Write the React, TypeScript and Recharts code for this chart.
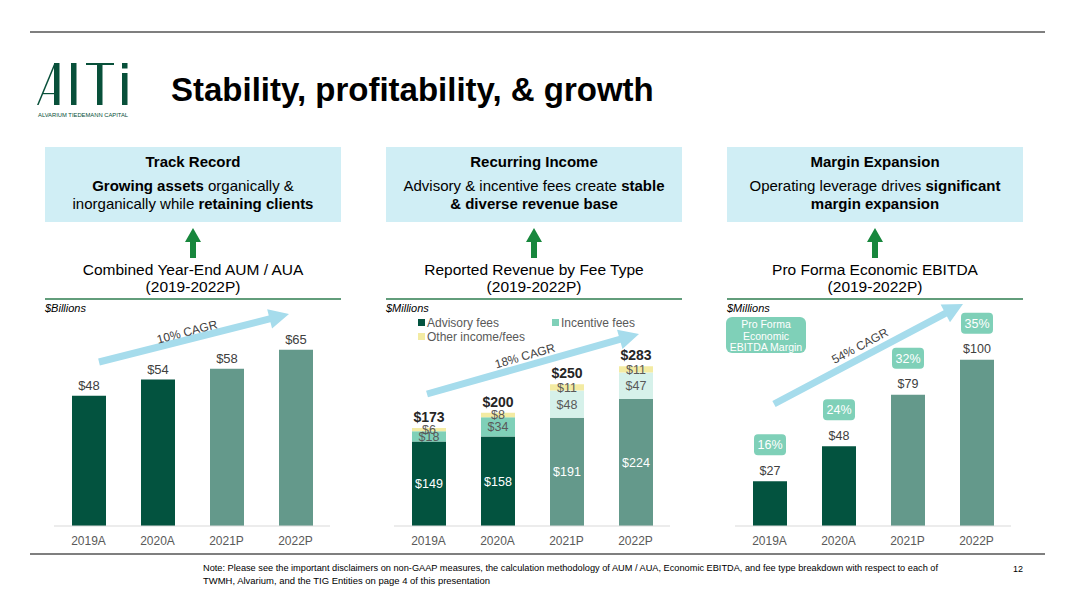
import React from "react";
import { BarChart, Bar, XAxis, YAxis, Cell, LabelList } from "recharts";

// data
const years = ["2019A", "2020A", "2021P", "2022P"];
const actual = [true, true, false, false];
const aum = [48, 54, 58, 65];
const advisory = [149, 158, 191, 224];
const incentive = [18, 34, 48, 47];
const other = [6, 8, 11, 11];
const revenueTotals = [173, 200, 250, 283];
const ebitda = [27, 48, 79, 100];
const ebitdaMargin = [16, 24, 32, 35];

const FONT = '"Liberation Sans", Arial, sans-serif';
const DARK = "#03533F";
const PROJ = "#64998B";
const INC = "#7FD0B8";
const INC_P = "#D6F1EA";
const OTHER = "#F3EBA3";
const PILL = "#7FD0B8";
const BOX = "#D0EEF5";
const CAGR = "#A6DCEC";
const UP = "#18873D";
const TXT = "#404040";

const CH_TOP = 305;
const CH_H = 251;
const PLOT_W = 276;

const aumData = years.map((y, i) => ({ year: y, value: aum[i] }));
const revData = years.map((y, i) => ({
  year: y,
  advisory: advisory[i],
  incentive: incentive[i],
  other: other[i],
}));
const ebitdaData = years.map((y, i) => ({ year: y, value: ebitda[i] }));

const xTick = { fontSize: 12, fill: "#595959", fontFamily: FONT };

function pos(p: any) {
  const vb = p.viewBox || {};
  return {
    x: p.x ?? vb.x,
    y: p.y ?? vb.y,
    width: p.width ?? vb.width,
  };
}

const TotalLabel = (p: any) => {
  const { x, y, width } = pos(p);
  return (
    <text x={x + width / 2} y={y - 6} textAnchor="middle" fontSize={14} fontWeight="bold" fill="#262626" fontFamily={FONT}>
      ${revenueTotals[p.index]}
    </text>
  );
};

const EbitdaLabel = (p: any) => {
  const { x, y, width } = pos(p);
  const cx = x + width / 2;
  return (
    <g>
      <text x={cx} y={y - 6.5} textAnchor="middle" fontSize={12.5} fill={TXT} fontFamily={FONT}>
        ${p.value}
      </text>
      <rect x={cx - 16} y={y - 47} width={32} height={21} rx={4} fill={PILL} />
      <text x={cx} y={y - 32} textAnchor="middle" fontSize={12.5} fill="#fff" fontFamily={FONT}>
        {ebitdaMargin[p.index]}%
      </text>
    </g>
  );
};

function arrowPts(x1: number, y1: number, x2: number, y2: number, shaft = 7, headW = 20, headL = 20) {
  const dx = x2 - x1, dy = y2 - y1, len = Math.hypot(dx, dy);
  const ux = dx / len, uy = dy / len, nx = -uy, ny = ux;
  const bx = x2 - ux * headL, by = y2 - uy * headL;
  const pts = [
    [x1 + (nx * shaft) / 2, y1 + (ny * shaft) / 2],
    [bx + (nx * shaft) / 2, by + (ny * shaft) / 2],
    [bx + (nx * headW) / 2, by + (ny * headW) / 2],
    [x2, y2],
    [bx - (nx * headW) / 2, by - (ny * headW) / 2],
    [bx - (nx * shaft) / 2, by - (ny * shaft) / 2],
    [x1 - (nx * shaft) / 2, y1 - (ny * shaft) / 2],
  ];
  return pts.map((p) => p.join(",")).join(" ");
}

const boxes = [
  {
    x: 45,
    title: "Track Record",
    l1: [["Growing assets", true], [" organically &", false]],
    l2: [["inorganically while ", false], ["retaining clients", true]],
    c1: "Combined Year-End AUM / AUA",
    unit: "$Billions",
  },
  {
    x: 386,
    title: "Recurring Income",
    l1: [["Advisory & incentive fees create ", false], ["stable", true]],
    l2: [["& diverse revenue base", true]],
    c1: "Reported Revenue by Fee Type",
    unit: "$Millions",
  },
  {
    x: 727,
    title: "Margin Expansion",
    l1: [["Operating leverage drives ", false], ["significant", true]],
    l2: [["margin expansion", true]],
    c1: "Pro Forma Economic EBITDA",
    unit: "$Millions",
  },
];

const cagrs = [
  { x1: 99, y1: 362, x2: 289, y2: 314, cx: 187, cy: 332, a: -14.5, t: "10% CAGR" },
  { x1: 427, y1: 394, x2: 639, y2: 334, cx: 525, cy: 356, a: -16, t: "18% CAGR" },
  { x1: 774, y1: 404, x2: 963, y2: 304, cx: 860, cy: 346, a: -28, t: "54% CAGR" },
];

function Slide() {
  return (
    <svg width={1068} height={601} style={{ position: "absolute", left: 0, top: 0 }} fontFamily={FONT}>
      <line x1={30} y1={32} x2={1045} y2={32} stroke="#7F7F7F" strokeWidth={2} />
      <line x1={30} y1={554} x2={1045} y2={554} stroke="#7F7F7F" strokeWidth={2} />

      {/* logo */}
      <g fill="#08503A">
        <polygon points="37,105 38.6,105 56,63 54.4,63" />
        <rect x={54} y={63} width={5.5} height={42} />
        <rect x={43} y={93} width={12} height={1.2} />
        <rect x={71} y={63} width={5.5} height={42} />
        <rect x={86} y={63} width={28} height={2} />
        <rect x={97} y={63} width={5.5} height={42} />
        <rect x={122} y={73} width={5.5} height={32} />
        <rect x={122} y={63} width={5.5} height={5.5} />
      </g>
      <text x={38} y={117} fontSize={4.6} fill="#08503A" textLength={90} lengthAdjust="spacingAndGlyphs">
        ALVARIUM TIEDEMANN CAPITAL
      </text>

      <text x={171} y={101} fontSize={33} fontWeight="bold" fill="#000">
        Stability, profitability, &amp; growth
      </text>

      {boxes.map((b, i) => {
        const cx = b.x + 148;
        return (
          <g key={i}>
            <rect x={b.x} y={147} width={296} height={75} fill={BOX} />
            <text x={cx} y={167} textAnchor="middle" fontSize={15} fontWeight="bold" fill="#000">
              {b.title}
            </text>
            <text x={cx} y={191} textAnchor="middle" fontSize={15} fill="#000">
              {b.l1.map((s: any, k) => (
                <tspan key={k} fontWeight={s[1] ? "bold" : "normal"}>{s[0]}</tspan>
              ))}
            </text>
            <text x={cx} y={208.5} textAnchor="middle" fontSize={15} fill="#000">
              {b.l2.map((s: any, k) => (
                <tspan key={k} fontWeight={s[1] ? "bold" : "normal"}>{s[0]}</tspan>
              ))}
            </text>
            <polygon
              points={`${cx - 8},242 ${cx},228 ${cx + 8},242 ${cx + 3},242 ${cx + 3},258 ${cx - 3},258 ${cx - 3},242`}
              fill={UP}
            />
            <text x={cx} y={275} textAnchor="middle" fontSize={15.5} fill="#000">
              {b.c1}
            </text>
            <text x={cx} y={292} textAnchor="middle" fontSize={15.5} fill="#000">
              (2019-2022P)
            </text>
            <line x1={b.x} y1={299} x2={b.x + 296} y2={299} stroke="#2E7D4F" strokeWidth={1.5} />
            <text x={b.x} y={311.5} fontSize={11} fontStyle="italic" fill="#000">
              {b.unit}
            </text>
          </g>
        );
      })}

      {/* revenue legend */}
      <rect x={418} y={319} width={7} height={7} fill={DARK} />
      <text x={427} y={327} fontSize={12} fill="#595959">Advisory fees</text>
      <rect x={552} y={319} width={7} height={7} fill={INC} />
      <text x={561} y={327} fontSize={12} fill="#595959">Incentive fees</text>
      <rect x={418} y={333} width={7} height={7} fill={OTHER} />
      <text x={427} y={341} fontSize={12} fill="#595959">Other income/fees</text>

      {/* margin legend pill */}
      <rect x={726} y={317} width={80} height={36} rx={6} fill={PILL} />
      <text x={766} y={328} textAnchor="middle" fontSize={10.5} fill="#fff">Pro Forma</text>
      <text x={766} y={339.5} textAnchor="middle" fontSize={10.5} fill="#fff">Economic</text>
      <text x={766} y={351} textAnchor="middle" fontSize={10.5} fill="#fff">EBITDA Margin</text>

      {cagrs.map((c, i) => (
        <g key={i}>
          <polygon points={arrowPts(c.x1, c.y1, c.x2, c.y2)} fill={CAGR} />
          <text
            x={c.cx}
            y={c.cy}
            textAnchor="middle"
            dominantBaseline="central"
            fontSize={12}
            fill={TXT}
            transform={`rotate(${c.a} ${c.cx} ${c.cy})`}
          >
            {c.t}
          </text>
        </g>
      ))}

      <text x={203} y={570.5} fontSize={9} fill="#000" textLength={735} lengthAdjust="spacingAndGlyphs">
        Note: Please see the important disclaimers on non-GAAP measures, the calculation methodology of AUM / AUA, Economic EBITDA, and fee type breakdown with respect to each of
      </text>
      <text x={203} y={584} fontSize={9} fill="#000" textLength={287} lengthAdjust="spacingAndGlyphs">
        TWMH, Alvarium, and the TIG Entities on page 4 of this presentation
      </text>
      <text x={1013} y={572} fontSize={9} fill="#000">12</text>
    </svg>
  );
}

export default function App() {
  const frame = (left: number): React.CSSProperties => ({ position: "absolute", left, top: CH_TOP });
  return (
    <div style={{ position: "absolute", left: 0, top: 0, width: 1068, height: 601, background: "#fff", overflow: "hidden" }}>
      <Slide />

      {/* AUM */}
      <div style={frame(54)}>
        <BarChart width={PLOT_W} height={CH_H} data={aumData} margin={{ top: 4, right: 0, left: 0, bottom: 0 }} barSize={34}>
          <XAxis dataKey="year" axisLine={{ stroke: "#D9D9D9" }} tickLine={false} tick={xTick} height={30} tickMargin={4} />
          <YAxis hide domain={[0, 80]} />
          <Bar dataKey="value" isAnimationActive={false}>
            {aumData.map((d, i) => (
              <Cell key={i} fill={actual[i] ? DARK : PROJ} />
            ))}
            <LabelList dataKey="value" position="top" offset={6} formatter={(v: any) => `$${v}`} fill={TXT} fontSize={13} fontFamily={FONT} />
          </Bar>
        </BarChart>
      </div>

      {/* Revenue */}
      <div style={frame(394)}>
        <BarChart width={PLOT_W} height={CH_H} data={revData} margin={{ top: 0, right: 0, left: 0, bottom: 0 }} barSize={34}>
          <XAxis dataKey="year" axisLine={{ stroke: "#D9D9D9" }} tickLine={false} tick={xTick} height={30} tickMargin={4} />
          <YAxis hide domain={[0, 390]} />
          <Bar dataKey="advisory" stackId="a" isAnimationActive={false}>
            {revData.map((d, i) => (
              <Cell key={i} fill={actual[i] ? DARK : PROJ} />
            ))}
            <LabelList dataKey="advisory" position="center" formatter={(v: any) => `$${v}`} fill="#fff" fontSize={12.5} fontFamily={FONT} />
          </Bar>
          <Bar dataKey="incentive" stackId="a" isAnimationActive={false}>
            {revData.map((d, i) => (
              <Cell key={i} fill={actual[i] ? INC : INC_P} />
            ))}
            <LabelList dataKey="incentive" position="center" formatter={(v: any) => `$${v}`} fill="#595959" fontSize={12.5} fontFamily={FONT} />
          </Bar>
          <Bar dataKey="other" stackId="a" fill={OTHER} isAnimationActive={false}>
            <LabelList dataKey="other" position="center" formatter={(v: any) => `$${v}`} fill="#595959" fontSize={12.5} fontFamily={FONT} />
            <LabelList dataKey="other" content={TotalLabel} />
          </Bar>
        </BarChart>
      </div>

      {/* EBITDA */}
      <div style={frame(735)}>
        <BarChart width={PLOT_W} height={CH_H} data={ebitdaData} margin={{ top: 0, right: 0, left: 0, bottom: 0 }} barSize={34}>
          <XAxis dataKey="year" axisLine={{ stroke: "#D9D9D9" }} tickLine={false} tick={xTick} height={30} tickMargin={4} />
          <YAxis hide domain={[0, 133]} />
          <Bar dataKey="value" isAnimationActive={false}>
            {ebitdaData.map((d, i) => (
              <Cell key={i} fill={actual[i] ? DARK : PROJ} />
            ))}
            <LabelList dataKey="value" content={EbitdaLabel} />
          </Bar>
        </BarChart>
      </div>
    </div>
  );
}
